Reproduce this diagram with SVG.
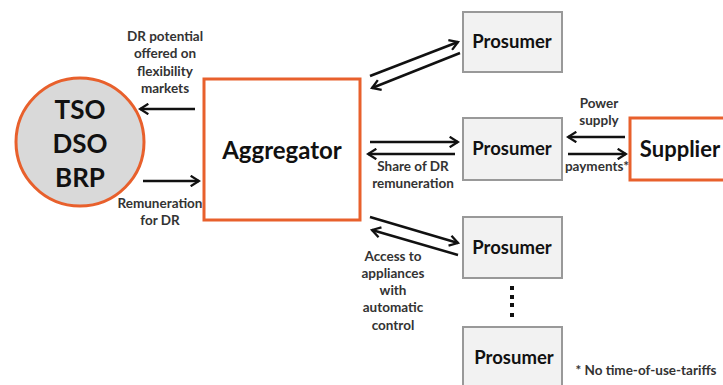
<svg xmlns="http://www.w3.org/2000/svg" width="723" height="385" viewBox="0 0 723 385">
<style>
text{font-family:Lato,"Liberation Sans",sans-serif;font-weight:bold;text-anchor:middle;fill:#111}
.lbl{font-size:13.5px;fill:#333}
.pro{fill:#f2f2f2;stroke:#999;stroke-width:2}
.pt{font-size:18.5px}
.org{fill:#fff;stroke:#E8602C;stroke-width:3}
.arr{stroke:#111;stroke-width:2.5;fill:none;marker-end:url(#ah)}
</style>
<defs>
<marker id="ah" viewBox="0 0 12 12" refX="10" refY="6" markerWidth="5" markerHeight="5" orient="auto" markerUnits="strokeWidth">
<polyline points="2,1 10,6 2,11" fill="none" stroke="#111" stroke-width="2.2"/>
</marker>
</defs>
<rect width="723" height="385" fill="#fff"/>
<g id="grid-operators">
<circle cx="80" cy="142" r="64" fill="#d9d9d9" stroke="#E8602C" stroke-width="3"/>
<text x="80" y="119" style="font-size:26px">TSO</text>
<text x="80" y="153" style="font-size:26px">DSO</text>
<text x="80" y="187" style="font-size:26px">BRP</text>
</g>
<g id="aggregator">
<rect class="org" x="204" y="79" width="156" height="141"/>
<text x="282" y="159" style="font-size:24px">Aggregator</text>
</g>
<g id="prosumer1"><rect class="pro" x="463" y="12" width="99" height="60"/><text class="pt" x="512" y="48">Prosumer</text></g>
<g id="prosumer2"><rect class="pro" x="463" y="118" width="99" height="62"/><text class="pt" x="512" y="155">Prosumer</text></g>
<g id="prosumer3"><rect class="pro" x="463" y="217" width="99" height="61"/><text class="pt" x="512" y="254">Prosumer</text></g>
<g id="prosumer4"><rect class="pro" x="463" y="327" width="99" height="70"/><text class="pt" x="514" y="364">Prosumer</text></g>
<g id="supplier">
<rect class="org" x="630" y="118" width="100" height="62"/>
<text x="680" y="157" style="font-size:22px">Supplier</text>
</g>
<g id="connectors">
<line class="arr" x1="195" y1="109" x2="140" y2="109"/>
<line class="arr" x1="143" y1="181" x2="199" y2="181"/>
<line class="arr" x1="370" y1="76" x2="458" y2="42"/>
<line class="arr" x1="460" y1="53" x2="372" y2="88"/>
<line class="arr" x1="370" y1="142" x2="458" y2="142"/>
<line class="arr" x1="455" y1="154" x2="368" y2="154"/>
<line class="arr" x1="625" y1="137" x2="568" y2="137"/>
<line class="arr" x1="568" y1="154" x2="626" y2="154"/>
<line class="arr" x1="370" y1="217" x2="458" y2="243"/>
<line class="arr" x1="458" y1="255" x2="372" y2="230"/>
</g>
<g id="dots" fill="#111">
<rect x="510" y="286" width="4" height="4"/>
<rect x="510" y="295" width="4" height="4"/>
<rect x="510" y="303" width="4" height="4"/>
<rect x="510" y="313" width="4" height="4"/>
</g>
<g id="labels">
<text class="lbl" x="165" y="41">DR potential</text>
<text class="lbl" x="165" y="58">offered on</text>
<text class="lbl" x="165" y="76">flexibility</text>
<text class="lbl" x="165" y="93">markets</text>
<text class="lbl" x="160" y="208">Remuneration</text>
<text class="lbl" x="160" y="225">for DR</text>
<text class="lbl" x="413" y="171">Share of DR</text>
<text class="lbl" x="413" y="188">remuneration</text>
<text class="lbl" x="599" y="108">Power</text>
<text class="lbl" x="599" y="125">supply</text>
<text class="lbl" x="597" y="171">payments*</text>
<text class="lbl" x="393" y="261">Access to</text>
<text class="lbl" x="393" y="278">appliances</text>
<text class="lbl" x="393" y="295">with</text>
<text class="lbl" x="393" y="312">automatic</text>
<text class="lbl" x="393" y="330">control</text>
<text class="lbl" x="646" y="375">* No time-of-use-tariffs</text>
</g>
</svg>
